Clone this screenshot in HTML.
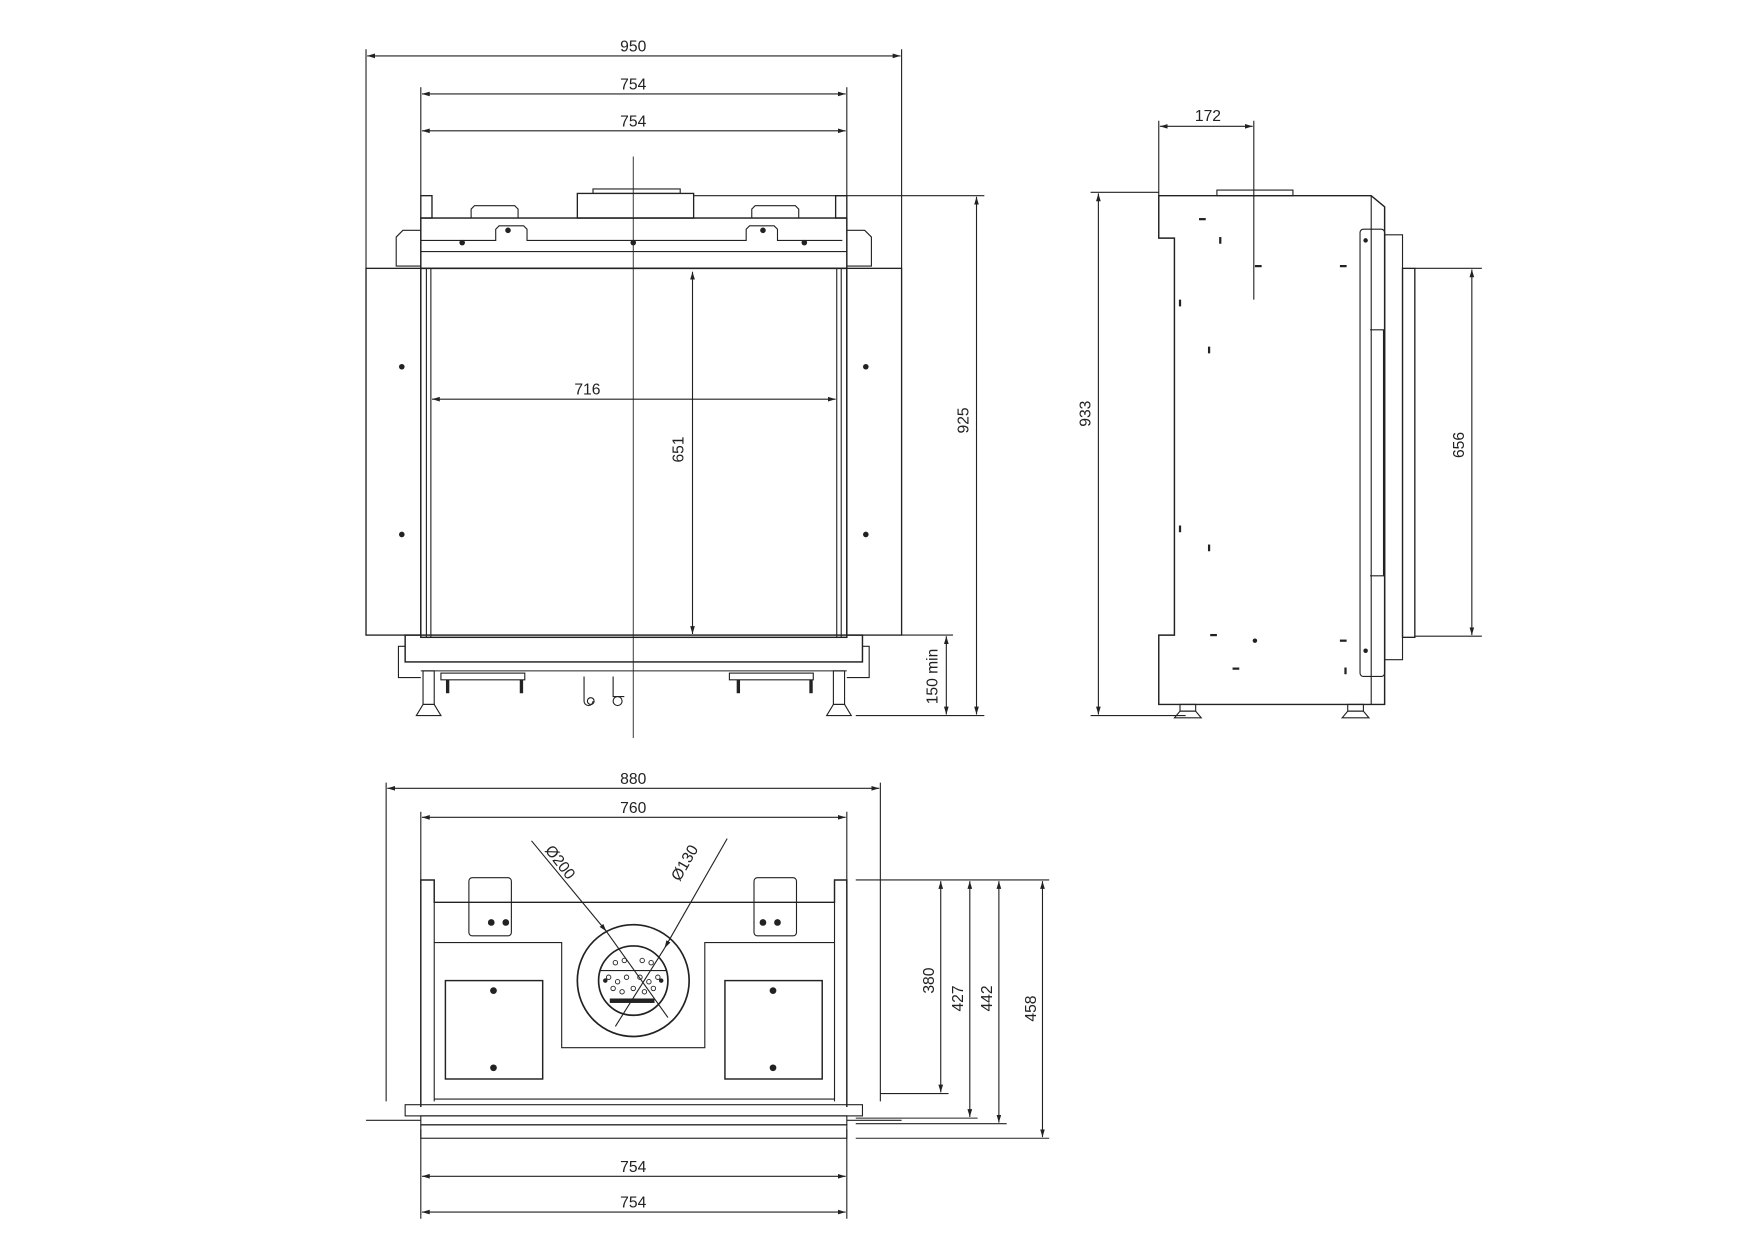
<!DOCTYPE html>
<html><head><meta charset="utf-8"><style>
html,body{margin:0;padding:0;background:#fff}
svg{display:block}
text{font-family:"Liberation Sans",sans-serif;font-size:14px;fill:#222}
</style></head><body>
<svg width="1754" height="1240" viewBox="0 0 1568 1109" xmlns="http://www.w3.org/2000/svg">
<defs>
<marker id="a" viewBox="0 0 10 10" refX="10" refY="5" markerWidth="7" markerHeight="7" orient="auto-start-reverse"><path d="M0,2 L10,5 L0,8z" fill="#222"/></marker>
</defs>
<g stroke="#222" fill="none" stroke-width="1">
<line x1="327" y1="44" x2="327" y2="240"/><line x1="806" y1="44" x2="806" y2="240"/>
<line x1="376" y1="78" x2="376" y2="175"/><line x1="757" y1="78" x2="757" y2="175"/>
<line x1="328" y1="50" x2="805" y2="50" marker-start="url(#a)" marker-end="url(#a)"/>
<line x1="377" y1="84" x2="756" y2="84" marker-start="url(#a)" marker-end="url(#a)"/>
<line x1="377" y1="117" x2="756" y2="117" marker-start="url(#a)" marker-end="url(#a)"/>
<line x1="386" y1="357" x2="747" y2="357" marker-start="url(#a)" marker-end="url(#a)"/>
<line x1="619" y1="243" x2="619" y2="567" marker-start="url(#a)" marker-end="url(#a)"/>
<line x1="620" y1="175" x2="880" y2="175"/><line x1="765" y1="640" x2="880" y2="640"/>
<line x1="873" y1="176" x2="873" y2="639" marker-start="url(#a)" marker-end="url(#a)"/>
<line x1="806" y1="568" x2="852" y2="568"/>
<line x1="846" y1="569" x2="846" y2="639" marker-start="url(#a)" marker-end="url(#a)"/>
<line x1="566" y1="140" x2="566" y2="660" stroke-width="0.8"/>
<rect x="516" y="173" width="104" height="22" stroke-width="1.2"/>
<rect x="530" y="169" width="78" height="4"/>
<rect x="376" y="175" width="10" height="20" stroke-width="1.2"/>
<rect x="747" y="175" width="10" height="20" stroke-width="1.2"/>
<path d="M421,195 v-8 l3,-3 h36 l3,3 v8 M672,195 v-8 l3,-3 h36 l3,3 v8"/>
<rect x="376" y="195" width="381" height="45" stroke-width="1.3"/>
<path d="M376,215 h67 v-10 l3,-3 h22 l3,3 v10 h196 v-10 l3,-3 h22 l3,3 v10 h58" />
<line x1="376" y1="225" x2="757" y2="225"/>
<path d="M376,206 h-16 l-6,6 v26 h22 M757,206 h16 l6,6 v26 h-22"/>
<rect x="327" y="240" width="49" height="328" stroke-width="1.2"/>
<rect x="757" y="240" width="49" height="328" stroke-width="1.2"/>
<rect x="376" y="240" width="381" height="330" stroke-width="1.3"/>
<line x1="381" y1="240" x2="381" y2="570"/><line x1="385" y1="240" x2="385" y2="570"/>
<line x1="752" y1="240" x2="752" y2="570"/><line x1="748" y1="240" x2="748" y2="570"/>
<rect x="362" y="568" width="409" height="24" stroke-width="1.3"/>
<path d="M362,578 h-6 v28 h20 M771,578 h6 v28 h-20"/>
<line x1="376" y1="600" x2="757" y2="600"/>
<rect x="378" y="600" width="10" height="30"/><rect x="745" y="600" width="10" height="30"/>
<path d="M372,640 l6,-10 h10 l6,10z M739,640 l6,-10 h10 l6,10z"/>
<rect x="394" y="602" width="75" height="6"/><rect x="652" y="602" width="75" height="6"/>
<line x1="400" y1="608" x2="400" y2="620" stroke-width="3"/><line x1="466" y1="608" x2="466" y2="620" stroke-width="3"/>
<line x1="660" y1="608" x2="660" y2="620" stroke-width="3"/><line x1="725" y1="608" x2="725" y2="620" stroke-width="3"/>
<path d="M522,605 v22 a4,4 0 0 0 8,0 M548,605 v18 h10"/>
<circle cx="552" cy="627" r="4"/><circle cx="528" cy="627" r="3"/>
<!-- SIDE VIEW -->
<line x1="1036" y1="108" x2="1036" y2="175"/><line x1="1121" y1="108" x2="1121" y2="268"/>
<line x1="1037" y1="113" x2="1120" y2="113" marker-start="url(#a)" marker-end="url(#a)"/>
<line x1="975" y1="172" x2="1036" y2="172"/><line x1="975" y1="640" x2="1060" y2="640"/>
<line x1="982" y1="173" x2="982" y2="639" marker-start="url(#a)" marker-end="url(#a)"/>
<line x1="1265" y1="240" x2="1325" y2="240"/><line x1="1265" y1="569" x2="1325" y2="569"/>
<line x1="1316" y1="241" x2="1316" y2="568" marker-start="url(#a)" marker-end="url(#a)"/>
<rect x="1088" y="170" width="68" height="5"/>
<path d="M1036,175 h190 l12,10 v445 h-202 v-62 h14 v-355 h-14z" stroke-width="1.3"/>
<line x1="1226" y1="175" x2="1226" y2="630"/>
<rect x="1216" y="205" width="22" height="400" rx="3"/>
<rect x="1238" y="210" width="16" height="380"/>
<rect x="1254" y="240" width="11" height="330" stroke-width="1.2"/>
<path d="M1225,295 h12 v220 h-12"/>
<rect x="1055" y="630" width="14" height="6"/><path d="M1050,642 l5,-6 h14 l5,6z"/>
<rect x="1205" y="630" width="14" height="6"/><path d="M1200,642 l5,-6 h14 l5,6z"/>
<!-- BOTTOM VIEW -->
<line x1="345" y1="700" x2="345" y2="985"/><line x1="787" y1="700" x2="787" y2="985"/>
<line x1="376" y1="726" x2="376" y2="790"/><line x1="757" y1="726" x2="757" y2="790"/>
<line x1="346" y1="705" x2="786" y2="705" marker-start="url(#a)" marker-end="url(#a)"/>
<line x1="377" y1="731" x2="756" y2="731" marker-start="url(#a)" marker-end="url(#a)"/>
<line x1="376" y1="1010" x2="376" y2="1090"/><line x1="757" y1="1010" x2="757" y2="1090"/>
<line x1="377" y1="1052" x2="756" y2="1052" marker-start="url(#a)" marker-end="url(#a)"/>
<line x1="377" y1="1084" x2="756" y2="1084" marker-start="url(#a)" marker-end="url(#a)"/>
<line x1="765" y1="787" x2="938" y2="787"/>
<line x1="787" y1="978" x2="848" y2="978"/><line x1="765" y1="1000" x2="874" y2="1000"/>
<line x1="765" y1="1005" x2="900" y2="1005"/><line x1="765" y1="1018" x2="938" y2="1018"/>
<line x1="841" y1="788" x2="841" y2="977" marker-start="url(#a)" marker-end="url(#a)"/>
<line x1="867" y1="788" x2="867" y2="999" marker-start="url(#a)" marker-end="url(#a)"/>
<line x1="893" y1="788" x2="893" y2="1004" marker-start="url(#a)" marker-end="url(#a)"/>
<line x1="932" y1="788" x2="932" y2="1017" marker-start="url(#a)" marker-end="url(#a)"/>
<path d="M376,990 v-203 h12 v20 h358 v-20 h11 v203" stroke-width="1.3"/>
<line x1="388" y1="807" x2="388" y2="985"/><line x1="746" y1="807" x2="746" y2="985"/>
<path d="M388,843 h114 v94 h128 v-94 h116" />
<rect x="398" y="877" width="87" height="88" stroke-width="1.3"/>
<rect x="648" y="877" width="87" height="88" stroke-width="1.3"/>
<rect x="419" y="785" width="38" height="52" rx="3"/><rect x="674" y="785" width="38" height="52" rx="3"/>
<circle cx="566" cy="877" r="50" stroke-width="1.5"/>
<circle cx="566" cy="877" r="31" stroke-width="1.5"/>
<line x1="536" y1="868" x2="596" y2="868"/>
<g stroke-width="0.8">
<circle cx="550" cy="861" r="2"/><circle cx="558" cy="859" r="2"/><circle cx="574" cy="859" r="2"/><circle cx="582" cy="861" r="2"/>
<circle cx="544" cy="874" r="2"/><circle cx="552" cy="878" r="2"/><circle cx="560" cy="874" r="2"/><circle cx="572" cy="874" r="2"/><circle cx="580" cy="878" r="2"/><circle cx="588" cy="874" r="2"/>
<circle cx="548" cy="884" r="2"/><circle cx="556" cy="887" r="2"/><circle cx="566" cy="884" r="2"/><circle cx="576" cy="887" r="2"/><circle cx="584" cy="884" r="2"/>
</g>
<line x1="388" y1="983" x2="746" y2="983"/>
<rect x="362" y="988" width="409" height="10"/>
<rect x="376" y="998" width="381" height="8"/>
<rect x="376" y="1006" width="381" height="12"/>
<line x1="327" y1="1002" x2="376" y2="1002"/><line x1="757" y1="1002" x2="806" y2="1002"/>
<line x1="475" y1="752" x2="542" y2="833" marker-end="url(#a)"/><line x1="542" y1="833" x2="597" y2="910"/>
<line x1="650" y1="750" x2="594" y2="848" marker-end="url(#a)"/><line x1="594" y1="848" x2="550" y2="918"/>
</g>
<g fill="#222">
<circle cx="359" cy="328" r="2.5"/><circle cx="359" cy="478" r="2.5"/>
<circle cx="774" cy="328" r="2.5"/><circle cx="774" cy="478" r="2.5"/>
<circle cx="566" cy="217" r="2.5"/><circle cx="413" cy="217" r="2.5"/><circle cx="719" cy="217" r="2.5"/>
<circle cx="454" cy="206" r="2.5"/><circle cx="682" cy="206" r="2.5"/>
<circle cx="439" cy="825" r="3"/><circle cx="452" cy="825" r="3"/><circle cx="682" cy="825" r="3"/><circle cx="695" cy="825" r="3"/>
<circle cx="441" cy="886" r="3"/><circle cx="441" cy="955" r="3"/><circle cx="691" cy="886" r="3"/><circle cx="691" cy="955" r="3"/>
<circle cx="541" cy="877" r="2"/><circle cx="591" cy="877" r="2"/>
<rect x="545" y="893" width="40" height="4"/>
<rect x="1072" y="195" width="6" height="2"/><rect x="1090" y="212" width="2" height="6"/><rect x="1122" y="237" width="6" height="2"/>
<rect x="1198" y="237" width="6" height="2"/><rect x="1054" y="268" width="2" height="6"/><rect x="1080" y="310" width="2" height="6"/>
<rect x="1054" y="470" width="2" height="6"/><rect x="1080" y="487" width="2" height="6"/><rect x="1082" y="567" width="6" height="2"/>
<circle cx="1122" cy="573" r="2"/><rect x="1198" y="572" width="6" height="2"/><rect x="1102" y="597" width="6" height="2"/><rect x="1202" y="597" width="2" height="6"/>
<circle cx="1221" cy="215" r="2"/><circle cx="1221" cy="582" r="2"/>
</g>
<text x="566" y="46" text-anchor="middle">950</text>
<text x="566" y="80" text-anchor="middle">754</text>
<text x="566" y="113" text-anchor="middle">754</text>
<text x="525" y="353" text-anchor="middle">716</text>
<text transform="translate(611,402) rotate(-90)" text-anchor="middle">651</text>
<text transform="translate(866,376) rotate(-90)" text-anchor="middle">925</text>
<text transform="translate(838,605) rotate(-90)" text-anchor="middle">150 min</text>
<text x="1080" y="108" text-anchor="middle">172</text>
<text transform="translate(975,370) rotate(-90)" text-anchor="middle">933</text>
<text transform="translate(1309,398) rotate(-90)" text-anchor="middle">656</text>
<text x="566" y="701" text-anchor="middle">880</text>
<text x="566" y="727" text-anchor="middle">760</text>
<text x="566" y="1048" text-anchor="middle">754</text>
<text x="566" y="1080" text-anchor="middle">754</text>
<text transform="translate(835,877) rotate(-90)" text-anchor="middle">380</text>
<text transform="translate(861,893) rotate(-90)" text-anchor="middle">427</text>
<text transform="translate(887,893) rotate(-90)" text-anchor="middle">442</text>
<text transform="translate(926,902) rotate(-90)" text-anchor="middle">458</text>
<text transform="translate(497,774) rotate(52)" text-anchor="middle">Ø200</text>
<text transform="translate(616,774) rotate(-60)" text-anchor="middle">Ø130</text>
</svg>
</body></html>
